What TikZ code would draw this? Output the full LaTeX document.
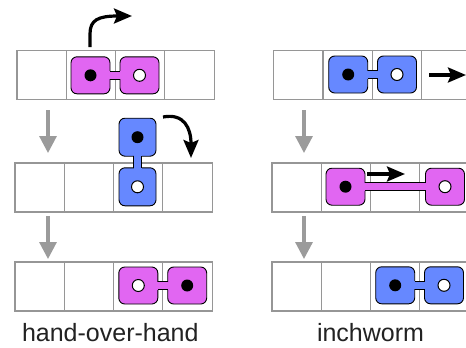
\documentclass[tikz,border=0pt]{standalone}
\usepackage{fontspec}
\setmainfont{Liberation Sans}
\usetikzlibrary{arrows.meta,calc}
\definecolor{mag}{RGB}{225,102,242}
\definecolor{blu}{RGB}{102,136,255}
\definecolor{gridgray}{RGB}{150,150,150}
\definecolor{arrgray}{RGB}{155,155,155}
\definecolor{txt}{RGB}{34,34,34}
\tikzset{
  cell/.style={draw=gridgray, line width=1.1pt, minimum width=49.3pt, minimum height=49pt, inner sep=0pt, outer sep=0pt},
  foot/.style={draw=black, line width=0.9pt, rounded corners=6pt, minimum width=39pt, minimum height=37pt, inner sep=0pt, outer sep=0pt},
  vfoot/.style={foot, minimum width=37pt, minimum height=38pt},
  bdot/.style={circle, fill=black, minimum size=12pt, inner sep=0pt},
  wdot/.style={circle, fill=white, draw=black, line width=1pt, minimum size=12pt, inner sep=0pt},
  move/.style={line width=3.2pt, -{Stealth[length=18pt, width=15pt, inset=3pt]}},
  step arrow/.style={draw=arrgray, line width=3.2pt, -{Triangle[length=17pt, width=17pt]}},
  label text/.style={font=\fontsize{25}{30}\selectfont, text=txt, anchor=base, inner sep=0pt}
}
% horizontal bar between two feet
\newcommand{\myhbar}[3]{%
  \fill[#1] ($(#2.east)+(-2,-4)$) rectangle ($(#3.west)+(2,4)$);
  \draw[line width=0.9pt] ($(#2.east)+(0,-4)$) -- ($(#3.west)+(0,-4)$);
  \draw[line width=0.9pt] ($(#2.east)+(0,4)$) -- ($(#3.west)+(0,4)$);}
\newcommand{\myvbar}[3]{%
  \fill[#1] ($(#2.south)+(-4,-2)$) rectangle ($(#3.north)+(4,2)$);
  \draw[line width=0.9pt] ($(#2.south)+(-4,0)$) -- ($(#3.north)+(-4,0)$);
  \draw[line width=0.9pt] ($(#2.south)+(4,0)$) -- ($(#3.north)+(4,0)$);}
\begin{document}
\begin{tikzpicture}[x=1pt,y=-1pt]
\useasboundingbox (0,0) rectangle (466,348);
\clip (0,0) rectangle (466,348);
\fill[white] (0,0) rectangle (466,348);
% grids
\foreach \i in {0,...,3} {
  \node[cell] (La\i) at (17+24.65+\i*49.3, 74.8) {};
  \node[cell] (Lb\i) at (15+24.65+\i*49.3, 187.5) {};
  \node[cell] (Lc\i) at (15+24.65+\i*49.3, 286.5) {};
  \node[cell] (Ra\i) at (273.7+24.65+\i*49.3, 74.8) {};
  \node[cell] (Rb\i) at (272+24.65+\i*49.3, 187.5) {};
  \node[cell] (Rc\i) at (272+24.65+\i*49.3, 286.5) {};
}
% left top: magenta
\node[foot, fill=mag] (m1l) at (90.5,75.3) {};
\node[foot, fill=mag] (m1r) at (139.5,75.3) {};
\myhbar{mag}{m1l}{m1r}
\node[bdot] (d1) at (m1l) {};
\node[wdot] (d2) at (m1r) {};
% left middle: blue vertical
\node[vfoot, fill=blu] (b1u) at (137.5,137.2) {};
\node[vfoot, fill=blu] (b1d) at (137.5,186.8) {};
\myvbar{blu}{b1u}{b1d}
\node[bdot] (d3) at (b1u) {};
\node[wdot] (d4) at (b1d) {};
% left bottom: magenta
\node[foot, fill=mag] (m2l) at (138.3,285.5) {};
\node[foot, fill=mag] (m2r) at (187.2,285.5) {};
\myhbar{mag}{m2l}{m2r}
\node[wdot] (d5) at (m2l) {};
\node[bdot] (d6) at (m2r) {};
% right top: blue
\node[foot, fill=blu] (b2l) at (348.2,74.5) {};
\node[foot, fill=blu] (b2r) at (397,74.5) {};
\myhbar{blu}{b2l}{b2r}
\node[bdot] (d7) at (b2l) {};
\node[wdot] (d8) at (b2r) {};
% right middle: magenta stretched
\node[foot, fill=mag] (m3l) at (345.5,186.7) {};
\node[foot, fill=mag] (m3r) at (445,186.7) {};
\myhbar{mag}{m3l}{m3r}
\node[bdot] (d9) at (m3l) {};
\node[wdot] (d10) at (m3r) {};
% right bottom: blue
\node[foot, fill=blu] (b3l) at (395.2,285.3) {};
\node[foot, fill=blu] (b3r) at (444,285.3) {};
\myhbar{blu}{b3l}{b3r}
\node[bdot] (d11) at (b3l) {};
\node[wdot] (d12) at (b3r) {};
% black motion arrows
\coordinate (a1s) at (90,47);
\coordinate (a1e) at (132,16);
\draw[move] (a1s) -- (90,34) .. controls (90,20) and (98,16) .. (a1e);
\coordinate (a2s) at (163,117);
\coordinate (a2e) at (191,158);
\draw[move] (a2s) .. controls (184,113) and (191,128) .. (a2e);
\coordinate (a3s) at (429,75);
\coordinate (a3e) at (466,75);
\draw[move] (a3s) -- (a3e);
\coordinate (a4s) at (367,174);
\coordinate (a4e) at (405,174);
\draw[move] (a4s) -- (a4e);
% gray step arrows
\coordinate (g1s) at (48,110); \coordinate (g1e) at (48,153);
\coordinate (g2s) at (48,216); \coordinate (g2e) at (48,259);
\coordinate (g3s) at (304,110); \coordinate (g3e) at (304,153);
\coordinate (g4s) at (304,216); \coordinate (g4e) at (304,259);
\draw[step arrow] (g1s) -- (g1e);
\draw[step arrow] (g2s) -- (g2e);
\draw[step arrow] (g3s) -- (g3e);
\draw[step arrow] (g4s) -- (g4e);
% labels
\node[label text] (lab1) at (110.3,341.7) {hand-over-hand};
\node[label text] (lab2) at (370.5,341.7) {inchworm};
\end{tikzpicture}
\end{document}
